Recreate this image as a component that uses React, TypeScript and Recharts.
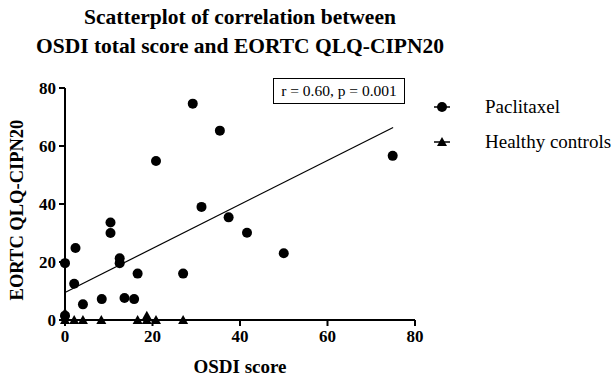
import { ScatterChart, Scatter, XAxis, YAxis, ReferenceLine } from 'recharts';

const paclitaxelX = [0, 0, 2.1, 2.4, 4.1, 8.4, 10.4, 10.4, 12.5, 12.5, 13.6, 15.8, 16.6, 20.8, 27, 29.2, 31.2, 35.4, 37.4, 41.6, 50, 74.9];
const paclitaxelY = [19.6, 1.5, 12.5, 24.8, 5.4, 7.2, 33.6, 30, 21.3, 19.6, 7.6, 7.2, 16, 54.8, 16, 74.6, 39, 65.3, 35.4, 30.1, 23, 56.6];

const controlsX = [0, 0, 0, 2.1, 4.1, 8.3, 16.6, 18.7, 18.7, 20.8, 27];
const controlsY = [0, 1, 2.5, 0, 0, 0, 0, 0, 1.5, 0, 0];

const fitLine = [{ x: 0, y: 9.5 }, { x: 75, y: 66.4 }];
const xTicks = [0, 20, 40, 60, 80];
const yTicks = [0, 20, 40, 60, 80];

const paclitaxel = paclitaxelX.map((x, i) => ({ x, y: paclitaxelY[i] }));
const controls = controlsX.map((x, i) => ({ x, y: controlsY[i] }));

const serif = '"Liberation Serif", "Times New Roman", serif';

const Dot = (props: any) => <circle cx={props.cx} cy={props.cy} r={5} fill="#000" />;
const Tri = (props: any) => (
  <polygon
    points={`${props.cx - 5},${props.cy + 4} ${props.cx + 5},${props.cy + 4} ${props.cx},${props.cy - 5}`}
    fill="#000"
  />
);

function LegendBox() {
  return (
    <div style={{ fontFamily: serif, fontSize: 19, color: '#000' }}>
      <div style={{ display: 'flex', alignItems: 'center', height: 20 }}>
        <svg width={40} height={20}>
          <line x1={4} x2={20} y1={10} y2={10} stroke="#000" strokeWidth={1.5} />
          <circle cx={12} cy={10} r={5} fill="#000" />
        </svg>
        <span style={{ marginLeft: 15 }}>Paclitaxel</span>
      </div>
      <div style={{ display: 'flex', alignItems: 'center', height: 20, marginTop: 15 }}>
        <svg width={40} height={20}>
          <line x1={4} x2={20} y1={10} y2={10} stroke="#000" strokeWidth={1.5} />
          <polygon points="7,14 17,14 12,5" fill="#000" />
        </svg>
        <span style={{ marginLeft: 15 }}>Healthy controls</span>
      </div>
    </div>
  );
}

export default function App() {
  const tickStyle = { fill: '#000', fontSize: 17, fontWeight: 'bold', fontFamily: serif };
  return (
    <div style={{ position: 'absolute', left: 0, top: 0, width: 612, height: 378, background: '#fff' }}>
      <div
        style={{
          position: 'absolute', left: 0, top: 3, width: 480, textAlign: 'center',
          fontFamily: serif, fontWeight: 'bold', fontSize: 21.5, lineHeight: '29px', color: '#000',
        }}
      >
        Scatterplot of correlation between
        <br />
        OSDI total score and EORTC QLQ-CIPN20
      </div>
      <ScatterChart width={612} height={378} margin={{ top: 88, right: 197, bottom: 0, left: 0 }}>
        <XAxis
          type="number"
          dataKey="x"
          domain={[0, 80]}
          ticks={xTicks}
          height={58}
          tickSize={6}
          tickMargin={4}
          axisLine={{ stroke: '#000', strokeWidth: 2 }}
          tickLine={{ stroke: '#000', strokeWidth: 2 }}
          tick={tickStyle}
        />
        <YAxis
          type="number"
          dataKey="y"
          domain={[0, 80]}
          ticks={yTicks}
          width={65}
          tickSize={6}
          tickMargin={3}
          axisLine={{ stroke: '#000', strokeWidth: 2 }}
          tickLine={{ stroke: '#000', strokeWidth: 2 }}
          tick={tickStyle}
        />
        <ReferenceLine segment={fitLine} stroke="#000" strokeWidth={1.2} />
        <Scatter name="Paclitaxel" data={paclitaxel} shape={Dot} isAnimationActive={false} />
        <Scatter name="Healthy controls" data={controls} shape={Tri} isAnimationActive={false} />
      </ScatterChart>
      <div style={{ position: 'absolute', left: 430, top: 97 }}>
        <LegendBox />
      </div>
      <div
        style={{
          position: 'absolute', left: 273, top: 78, width: 130, height: 24, border: '1.5px solid #000',
          fontFamily: serif, fontSize: 15.5, lineHeight: '24px', textAlign: 'center', color: '#000',
        }}
      >
        r = 0.60, p = 0.001
      </div>
      <div
        style={{
          position: 'absolute', left: 0, top: 356, width: 480, textAlign: 'center',
          fontFamily: serif, fontWeight: 'bold', fontSize: 19, color: '#000', lineHeight: '22px',
        }}
      >
        OSDI score
      </div>
      <div style={{ position: 'absolute', left: 17, top: 210, width: 0, height: 0 }}>
        <div
          style={{
            position: 'absolute', left: -120, top: -11, width: 240, textAlign: 'center',
            transform: 'rotate(-90deg)', fontFamily: serif, fontWeight: 'bold', fontSize: 18.5,
            lineHeight: '22px', color: '#000', whiteSpace: 'nowrap',
          }}
        >
          EORTC QLQ-CIPN20
        </div>
      </div>
    </div>
  );
}
